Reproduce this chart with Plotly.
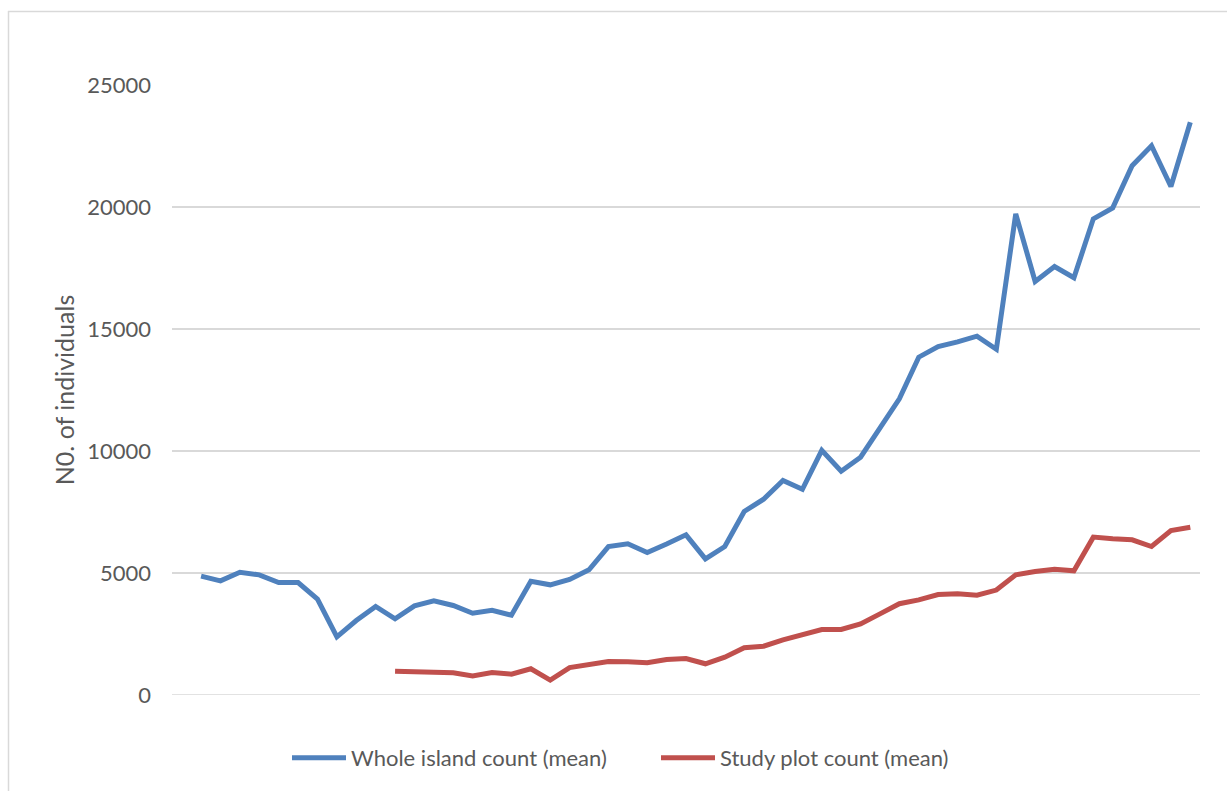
import plotly.graph_objects as go

# Category positions (x axis has no visible labels)
periods = list(range(53))

whole_island = [None, 4870, 4680, 5030, 4925, 4610, 4610, 3930, 2385, 3050, 3630,
                3120, 3655, 3860, 3670, 3350, 3475, 3270, 4665, 4515, 4735,
                5130, 6080, 6195, 5840, 6190, 6565, 5580, 6085, 7520, 8025,
                8790, 8430, 10030, 9170, 9745, 10910, 12140, 13845, 14280, 14475,
                14705, 14170, 19720, 16950, 17560, 17100, 19515, 19965, 21690, 22510,
                20840, 23475]

study_plot = [None] * 11 + [975, 975, 935, 910, 785, 920, 855, 1075, 610, 1125,
                            1265, 1375, 1360, 1320, 1455, 1495, 1280, 1550, 1935, 2000,
                            2260, 2455, 2685, 2685, 2915, 3325, 3740, 3900, 4120, 4145,
                            4090, 4300, 4925, 5060, 5155, 5090, 6470, 6400, 6360, 6085,
                            6740, 6875]

y_ticks = [0, 5000, 10000, 15000, 20000, 25000]

fig = go.Figure()
fig.add_trace(go.Scatter(x=periods, y=whole_island, mode="lines",
                         name="Whole island count (mean)",
                         line=dict(color="#4F81BD", width=5)))
fig.add_trace(go.Scatter(x=periods, y=study_plot, mode="lines",
                         name="Study plot count (mean)",
                         line=dict(color="#C0504D", width=5)))

W, H = 1227, 791
L, R, T, B = 172, 27, 85, 96
pw, ph = W - L - R, H - T - B

def px(x):
    return (x - L) / pw

def py(y):
    return (H - B - y) / ph

fig.update_layout(
    width=W, height=H,
    margin=dict(l=L, r=R, t=T, b=B, pad=0),
    paper_bgcolor="white", plot_bgcolor="white",
    font=dict(family="Lato, 'Open Sans', sans-serif", size=22, color="#595959"),
    showlegend=True,
    legend=dict(orientation="h", x=px(287), xanchor="left", y=py(758),
                yanchor="middle", font=dict(size=22, color="#595959"),
                itemwidth=54, entrywidth=300, bgcolor="rgba(0,0,0,0)"),
    xaxis=dict(range=[-0.5, 52.5], showticklabels=False, showgrid=False,
               zeroline=False, showline=False, ticks="", fixedrange=True),
    yaxis=dict(range=[0, 25000], tickvals=y_ticks, ticktext=[str(v) for v in y_ticks],
               showgrid=True, gridcolor="#D9D9D9", gridwidth=1.5,
               zeroline=False, showline=False, ticks="", ticklabelstandoff=20,
               tickfont=dict(size=22, color="#595959"),
               title=dict(text="N0. of individuals", standoff=5,
                          font=dict(size=25, color="#595959"))),
    shapes=[
        dict(type="line", xref="paper", yref="paper", x0=px(8), x1=px(1227),
             y0=py(11.5), y1=py(11.5), line=dict(color="#D9D9D9", width=1.5)),
        dict(type="line", xref="paper", yref="paper", x0=px(8.5), x1=px(8.5),
             y0=py(11), y1=py(791), line=dict(color="#D9D9D9", width=1.5)),
        dict(type="line", xref="paper", yref="y", x0=0, x1=1, y0=0, y1=0,
             line=dict(color="#D9D9D9", width=1.5), layer="below"),
    ],
)

fig.write_html("out.html")
